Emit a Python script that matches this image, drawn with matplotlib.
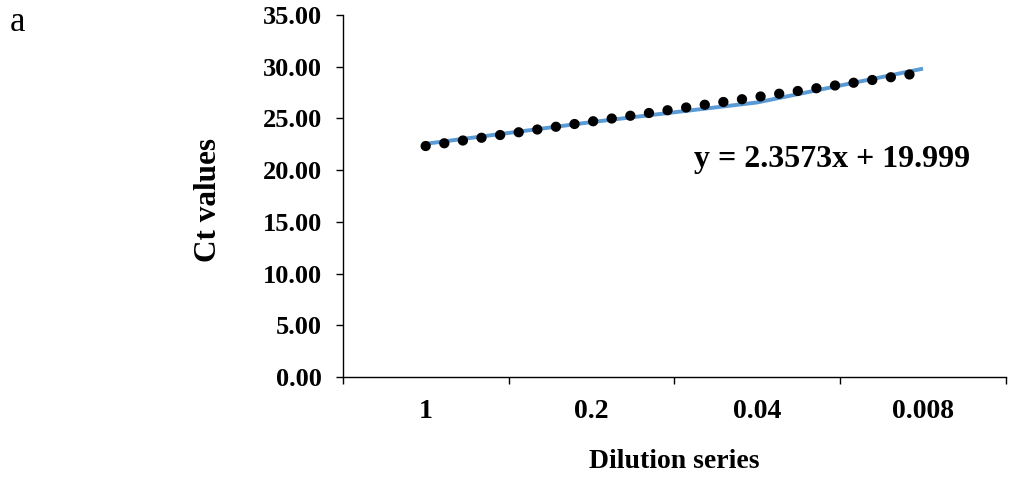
import numpy as np
import matplotlib
matplotlib.use("Agg")
from matplotlib import pyplot as plt

dilutions = ["1", "0.2", "0.04", "0.008"]
ct_values = [22.55, 24.65, 26.55, 29.82]
y_ticks = [0, 5, 10, 15, 20, 25, 30, 35]
equation = "y = 2.3573x + 19.999"

plt.rcParams["font.family"] = ["Liberation Serif", "DejaVu Serif"]
plt.rcParams["font.weight"] = "bold"

fig = plt.figure(figsize=(10.11, 4.8), dpi=100)
ax = fig.add_axes([0.339, 0.2146, 0.656, 0.754])

x = np.arange(len(dilutions))
ax.plot(x, ct_values, color="#5B9BD5", linewidth=2.8, solid_capstyle="butt", zorder=2)

# linear trendline drawn as round black dots
k, b = np.polyfit(x + 1, ct_values, 1)
tx = np.array([0, len(dilutions) - 1])
ax.plot(tx, k * (tx + 1) + b, color="black", linewidth=7.4,
        linestyle=(0, (0.01, 1.82)), dash_capstyle="round", zorder=3)

ax.text(0.529, 0.602, equation, transform=ax.transAxes, fontsize=23,
        fontweight="bold", va="center", ha="left")

ax.set_xlim(-0.5, len(dilutions) - 0.5)
ax.set_ylim(0, 35)
ax.set_xticks(x)
ax.set_xticklabels(dilutions, fontsize=20, fontweight="bold")
ax.set_xticks(np.arange(len(dilutions) + 1) - 0.5, minor=True)
ax.tick_params(axis="x", which="major", length=0, pad=16)
ax.tick_params(axis="x", which="minor", length=5, width=1, direction="out")
ax.set_yticks(y_ticks)
ax.set_yticklabels(["%.2f" % v for v in y_ticks], fontsize=19, fontweight="bold")
ax.tick_params(axis="y", length=5, width=1, direction="out", pad=10)

for s in ["top", "right"]:
    ax.spines[s].set_visible(False)
for s in ["left", "bottom"]:
    ax.spines[s].set_linewidth(1)

ax.set_ylabel("Ct values", fontsize=22.5, fontweight="bold")
ax.yaxis.set_label_coords(-0.181, 0.49)
ax.set_xlabel("Dilution series", fontsize=20, fontweight="bold")
ax.xaxis.set_label_coords(0.5, -0.2)

fig.text(0.017, 0.953, "a", fontsize=25, fontweight="normal", va="center", ha="center")

fig.savefig("out.png", dpi=100)
